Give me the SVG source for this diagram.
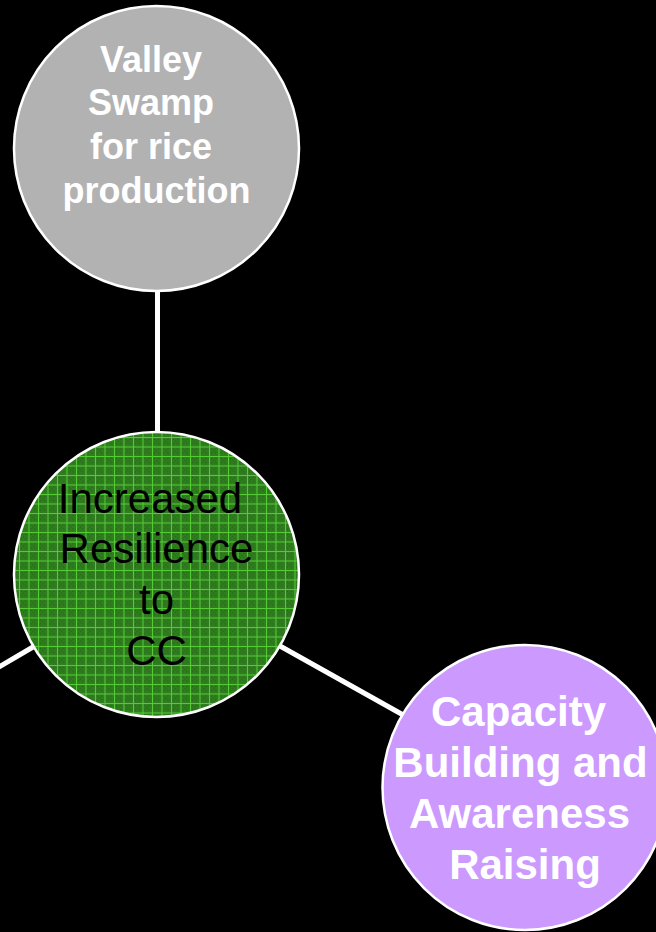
<svg xmlns="http://www.w3.org/2000/svg" width="656" height="932" viewBox="0 0 656 932">
  <defs>
    <!-- fine green mesh with a dithered ground -->
    <pattern id="mesh" x="0" y="0" width="9.5" height="9.5" patternUnits="userSpaceOnUse">
      <rect width="9.5" height="9.5" fill="#2f7d1e"/>
      <rect x="2" y="2" width="1" height="1" fill="#1f5a12"/>
      <rect x="4" y="4" width="1" height="1" fill="#1f5a12"/>
      <rect x="6" y="2" width="1" height="1" fill="#1f5a12"/>
      <rect x="2" y="6" width="1" height="1" fill="#1f5a12"/>
      <rect x="6" y="6" width="1" height="1" fill="#1f5a12"/>
      <rect x="0" y="0" width="9.5" height="1" fill="#55cc38"/>
      <rect x="0" y="0" width="1" height="9.5" fill="#55cc38"/>
    </pattern>
  </defs>
  <style>
    .link { stroke: #ffffff; stroke-width: 5; fill: none; }
    .ring { stroke: #ffffff; stroke-width: 2.5; }
    .bold { font-family: "Liberation Sans", Arial, sans-serif; font-weight: bold; fill: #ffffff; text-anchor: middle; }
    .plain { font-family: "Liberation Sans", Arial, sans-serif; fill: #000000; text-anchor: middle; font-size: 42px; }
  </style>
  <rect width="656" height="932" fill="#000000"/>

  <g id="connectors">
    <line class="link" x1="157.5" y1="291" x2="157.5" y2="433"/>
    <line class="link" x1="33" y1="647" x2="-20" y2="678"/>
    <line class="link" x1="280" y1="646" x2="405" y2="716"/>
  </g>

  <g id="node-valley-swamp">
    <circle class="ring" cx="156.5" cy="148.5" r="142.5" fill="#b2b2b2"/>
    <text class="bold" font-size="36" x="151" y="72">Valley</text>
    <text class="bold" font-size="36" x="151" y="115">Swamp</text>
    <text class="bold" font-size="36" x="151" y="159">for rice</text>
    <text class="bold" font-size="36" x="156.5" y="203">production</text>
  </g>

  <g id="node-resilience">
    <circle class="ring" cx="156.5" cy="574.5" r="142.5" fill="url(#mesh)"/>
    <text class="plain" x="150" y="513">Increased</text>
    <text class="plain" x="156.5" y="563">Resilience</text>
    <text class="plain" x="156.5" y="614">to</text>
    <text class="plain" x="156.5" y="665">CC</text>
  </g>

  <g id="node-capacity">
    <circle class="ring" cx="525" cy="787.5" r="142.5" fill="#cc99ff"/>
    <text class="bold" font-size="42" x="518.5" y="726">Capacity</text>
    <text class="bold" font-size="42" x="520.5" y="777">Building and</text>
    <text class="bold" font-size="42" x="519.5" y="828">Awareness</text>
    <text class="bold" font-size="42" x="525" y="879">Raising</text>
  </g>
</svg>
